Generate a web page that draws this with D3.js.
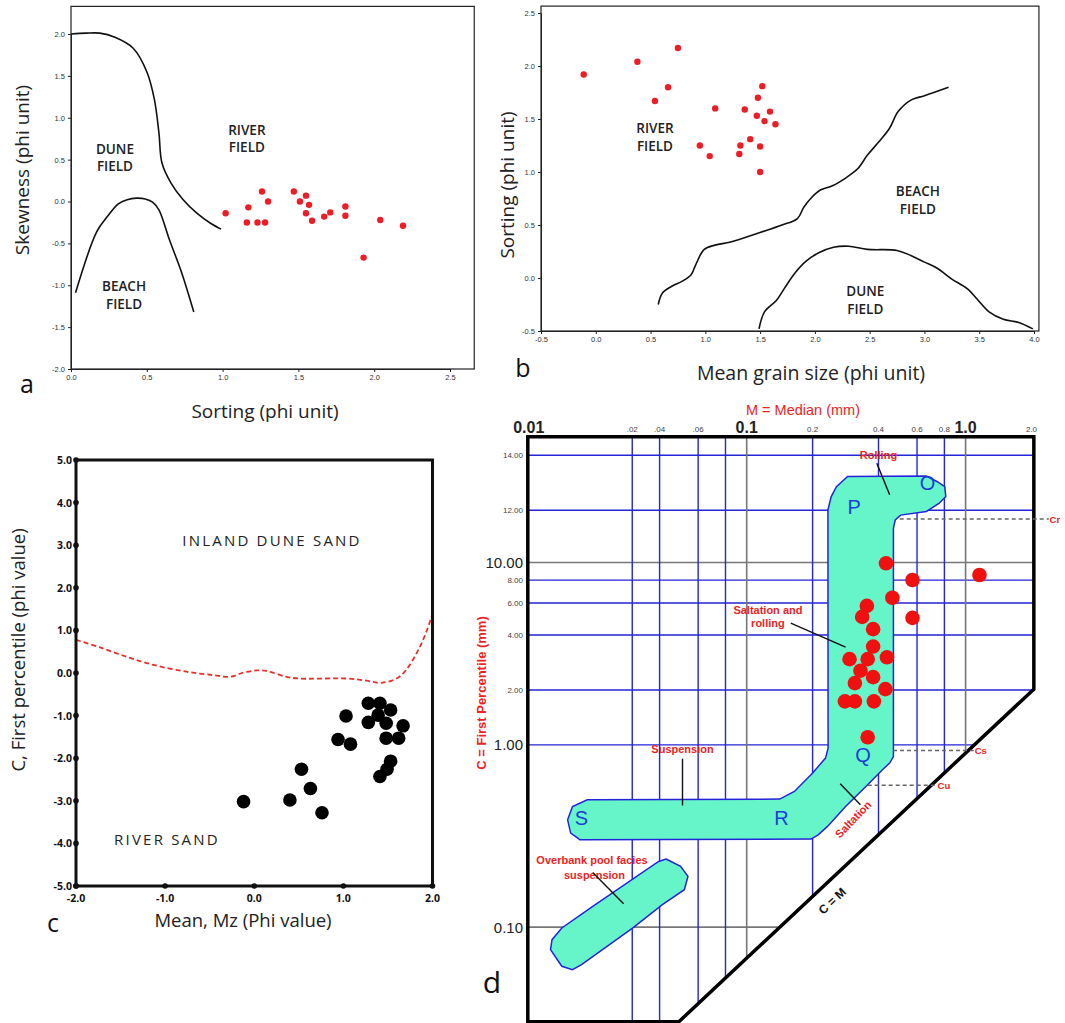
<!DOCTYPE html>
<html><head><meta charset="utf-8">
<script src="https://cdn.jsdelivr.net/npm/d3@7"></script>
<style>body{margin:0;background:#fff}svg{display:block}</style>
</head><body><svg id="c" width="1065" height="1023"></svg>
<script>
// ---------- Panel a : Sorting vs Skewness ----------
const aSorting  = [1.02,1.17,1.16,1.26,1.23,1.28,1.30,1.47,1.51,1.55,1.57,1.55,1.59,1.67,1.71,1.81,1.81,1.93,2.04,2.19];
const aSkewness = [-0.14,-0.07,-0.25,0.12,-0.25,-0.25,0.00,0.12,0.00,0.07,-0.04,-0.14,-0.23,-0.18,-0.13,-0.06,-0.17,-0.67,-0.22,-0.29];
const aDuneX  = [0,0.10,0.19,0.29,0.41,0.50,0.55,0.58,0.60,0.66,0.74,0.83,0.92,0.99];
const aDuneY  = [2.0,2.01,2.01,1.96,1.83,1.55,1.22,0.82,0.46,0.22,0.02,-0.14,-0.26,-0.33];
const aBeachX = [0.03,0.17,0.24,0.31,0.37,0.43,0.49,0.54,0.58,0.65,0.73,0.81];
const aBeachY = [-1.09,-0.36,-0.18,-0.03,0.02,0.04,0.03,-0.01,-0.10,-0.46,-0.85,-1.32];
const aXTicks = [0,0.5,1.0,1.5,2.0,2.5];
const aYTicks = [-2,-1.5,-1,-0.5,0,0.5,1,1.5,2];

// ---------- Panel b : Mean grain size vs Sorting ----------
const bMean    = [-0.11,0.38,0.75,0.66,0.54,1.09,0.95,1.04,1.36,1.32,1.31,1.41,1.48,1.52,1.47,1.59,1.54,1.64,1.50,1.50];
const bSorting = [1.92,2.04,2.17,1.80,1.67,1.60,1.25,1.15,1.59,1.25,1.17,1.31,1.70,1.81,1.53,1.57,1.48,1.45,1.24,1.00];
const bBeachX = [0.57,0.61,0.69,0.79,0.87,0.91,0.99,1.09,1.23,1.50,1.70,1.84,1.90,1.97,2.05,2.16,2.29,2.39,2.48,2.58,2.68,2.76,2.88,3.00,3.22];
const bBeachY = [-0.25,-0.14,-0.08,-0.03,0.03,0.12,0.27,0.31,0.34,0.43,0.50,0.56,0.67,0.76,0.83,0.87,0.95,1.03,1.16,1.28,1.41,1.57,1.68,1.72,1.80];
const bDuneX  = [1.49,1.54,1.65,1.72,1.82,1.92,2.04,2.17,2.31,2.48,2.75,2.88,3.00,3.12,3.25,3.39,3.49,3.59,3.72,3.86,3.99];
const bDuneY  = [-0.48,-0.32,-0.21,-0.10,0.05,0.16,0.24,0.29,0.30,0.27,0.26,0.21,0.15,0.09,-0.01,-0.10,-0.21,-0.32,-0.39,-0.42,-0.48];
const bXTicks = [-0.5,0,0.5,1,1.5,2,2.5,3,3.5,4];
const bYTicks = [-0.5,0,0.5,1,1.5,2,2.5];

// ---------- Panel c : Mean Mz vs C ----------
const cMean = [-0.12,0.40,0.53,0.63,0.76,0.94,1.03,1.08,1.28,1.28,1.41,1.39,1.53,1.48,1.67,1.48,1.62,1.53,1.49,1.41];
const cFirst = [-3.02,-2.98,-2.26,-2.71,-3.28,-1.56,-1.01,-1.67,-0.71,-1.16,-0.71,-0.99,-0.87,-1.18,-1.24,-1.53,-1.53,-2.07,-2.26,-2.43];
const cLineX = [-2.0,-1.73,-1.43,-1.13,-0.76,-0.46,-0.27,-0.12,0.03,0.14,0.36,0.51,1.04,1.26,1.43,1.64,1.86,2.0];
const cLineY = [0.78,0.60,0.38,0.19,0.03,-0.05,-0.09,0.01,0.06,0.05,-0.09,-0.13,-0.13,-0.18,-0.23,-0.07,0.62,1.38];
const cXTicks = [-2,-1,0,1,2];
const cYTicks = [5,4,3,2,1,0,-1,-2,-3,-4,-5];

// ---------- Panel d : CM diagram (Passega) ----------
const dMedian = [0.433,0.572,1.157,0.463,0.354,0.337,0.572,0.378,0.378,0.295,0.357,0.437,0.331,0.378,0.312,0.430,0.281,0.312,0.381,0.357];
const dFirst  = [9.90,8.02,8.54,6.41,5.78,5.03,4.97,4.31,3.46,2.95,2.95,3.02,2.55,2.35,2.18,2.02,1.73,1.73,1.73,1.10];
const dTopTicks  = [0.01,0.03,0.04,0.06,0.1,0.2,0.4,0.6,0.8,1.0,2.0];
const dTopLabels = ["0.01",".02",".04",".06","0.1","0.2","0.4","0.6","0.8","1.0","2.0"];
const dLeftTicks  = [14,12,10,8,6,4,2,1,0.1];
const dLeftLabels = ["14.00","12.00","10.00","8.00","6.00","4.00","2.00","1.00","0.10"];
const dVertBlue = [0.03,0.04,0.06,0.08,0.2,0.4,0.6,0.8];
const dVertGray = [0.1,1.0];
const dHorBlue  = [14,12,8,6,4,2,1];
const dHorGray  = [10,0.1];
// main PQRS / O field outline  [median, C]
const dMainShape = [[0.235,12.01],[0.243,12.46],[0.257,12.82],[0.289,13.19],[0.662,13.21],[0.743,13.0],[0.803,12.82],[0.812,12.47],[0.758,12.24],[0.662,11.95],[0.505,11.80],[0.477,11.60],[0.468,11.27],[0.468,0.863],[0.450,0.794],[0.417,0.730],[0.357,0.604],[0.283,0.459],[0.234,0.357],[0.212,0.321],[0.197,0.304],[0.0173,0.302],[0.0157,0.328],[0.0152,0.388],[0.0160,0.459],[0.0187,0.500],[0.1415,0.504],[0.1652,0.555],[0.2001,0.700],[0.2291,0.846],[0.2354,0.959]];
// overbank pool facies outline
const dPoolShape = [[0.0428,0.2364],[0.0499,0.2154],[0.0539,0.1899],[0.0519,0.1605],[0.0412,0.1328],[0.0302,0.0990],[0.0176,0.0623],[0.0160,0.0585],[0.0143,0.0610],[0.0127,0.0753],[0.0129,0.0854],[0.0143,0.0990],[0.0198,0.1300],[0.0396,0.2293]];
const dFrame = [[0.01,14.75],[2.05,14.75],[2.05,2.02],[0.049,0.0303],[0.01,0.0303]];

// =====================================================
const svg = d3.select("#c");
svg.append("rect").attr("width",1065).attr("height",1023).attr("fill","#fff");
const TF = "'Open Sans', 'DejaVu Sans', sans-serif";
const AF = "'Liberation Sans', Arial, sans-serif";
const f1 = d => d.toFixed(1);
function text(g, x, y, s, o = {}) {
  const t = g.append("text").attr("x", x).attr("y", y).text(s)
    .attr("font-family", o.family || TF).attr("font-size", o.size || 12)
    .attr("font-weight", o.weight || 400).attr("fill", o.fill || "#222")
    .attr("text-anchor", o.anchor || "middle");
  if (o.rotate != null) t.attr("transform", `rotate(${o.rotate},${x},${y})`);
  if (o.ls) t.attr("letter-spacing", o.ls);
  return t;
}
function styleAxis(g) {
  g.selectAll("text").attr("font-family", AF).attr("font-size", 7.5).attr("fill", "#333");
  g.selectAll("line").attr("stroke", "#222");
  g.select(".domain").attr("stroke", "#222");
}

// ---------- Panel a ----------
{
  const g = svg.append("g");
  const x = d3.scaleLinear().domain([0, 2.5]).range([71, 450]);
  const y = d3.scaleLinear().domain([-2, 2]).range([369, 34]);
  g.append("rect").attr("x", x(0)).attr("y", y(2.33)).attr("width", x(2.66) - x(0)).attr("height", y(-2) - y(2.33))
    .attr("fill", "none").attr("stroke", "#222").attr("stroke-width", 1.2);
  g.append("g").attr("transform", `translate(${x(0)},0)`)
    .call(d3.axisLeft(y).tickValues(aYTicks).tickFormat(f1).tickSize(3).tickSizeOuter(0)).call(styleAxis);
  g.append("g").attr("transform", `translate(0,${y(-2)})`)
    .call(d3.axisBottom(x).tickValues(aXTicks).tickFormat(f1).tickSize(3).tickSizeOuter(0)).call(styleAxis);
  const line = d3.line().x(d => x(d[0])).y(d => y(d[1])).curve(d3.curveCatmullRom);
  g.append("path").attr("d", line(d3.zip(aDuneX, aDuneY))).attr("fill", "none").attr("stroke", "#111").attr("stroke-width", 1.6);
  g.append("path").attr("d", line(d3.zip(aBeachX, aBeachY))).attr("fill", "none").attr("stroke", "#111").attr("stroke-width", 1.6);
  g.selectAll("circle.p").data(d3.zip(aSorting, aSkewness)).join("circle")
    .attr("cx", d => x(d[0])).attr("cy", d => y(d[1])).attr("r", 3.2).attr("fill", "#ee1c24");
  const fo = { size: 13.5, weight: 600, fill: "#222" };
  text(g, x(0.29), y(0.57), "DUNE", fo); text(g, x(0.29), y(0.36), "FIELD", fo);
  text(g, x(1.16), y(0.80), "RIVER", fo); text(g, x(1.16), y(0.59), "FIELD", fo);
  text(g, x(0.35), y(-1.07), "BEACH", fo); text(g, x(0.35), y(-1.28), "FIELD", fo);
  text(g, 265, 418, "Sorting (phi unit)", { size: 19, fill: "#222" });
  text(g, 29, 170, "Skewness (phi unit)", { size: 19, fill: "#222", rotate: -90 });
  text(g, 27, 393, "a", { size: 25, fill: "#111" });
}

// ---------- Panel b ----------
{
  const g = svg.append("g");
  const x = d3.scaleLinear().domain([-0.5, 4]).range([541, 1034]);
  const y = d3.scaleLinear().domain([-0.5, 2.5]).range([331, 13]);
  g.append("rect").attr("x", x(-0.5)).attr("y", y(2.565)).attr("width", x(4.045) - x(-0.5)).attr("height", y(-0.5) - y(2.565))
    .attr("fill", "none").attr("stroke", "#222").attr("stroke-width", 1.2);
  g.append("g").attr("transform", `translate(${x(-0.5)},0)`)
    .call(d3.axisLeft(y).tickValues(bYTicks).tickFormat(f1).tickSize(3).tickSizeOuter(0)).call(styleAxis);
  g.append("g").attr("transform", `translate(0,${y(-0.5)})`)
    .call(d3.axisBottom(x).tickValues(bXTicks).tickFormat(f1).tickSize(3).tickSizeOuter(0)).call(styleAxis);
  const line = d3.line().x(d => x(d[0])).y(d => y(d[1])).curve(d3.curveCatmullRom);
  g.append("path").attr("d", line(d3.zip(bBeachX, bBeachY))).attr("fill", "none").attr("stroke", "#111").attr("stroke-width", 1.6);
  g.append("path").attr("d", line(d3.zip(bDuneX, bDuneY))).attr("fill", "none").attr("stroke", "#111").attr("stroke-width", 1.6);
  g.selectAll("circle.p").data(d3.zip(bMean, bSorting)).join("circle")
    .attr("cx", d => x(d[0])).attr("cy", d => y(d[1])).attr("r", 3.2).attr("fill", "#ee1c24");
  const fo = { size: 13.5, weight: 600, fill: "#222" };
  text(g, x(0.54), y(1.37), "RIVER", fo); text(g, x(0.54), y(1.20), "FIELD", fo);
  text(g, x(2.94), y(0.77), "BEACH", fo); text(g, x(2.94), y(0.60), "FIELD", fo);
  text(g, x(2.46), y(-0.17), "DUNE", fo); text(g, x(2.46), y(-0.34), "FIELD", fo);
  text(g, 811, 380, "Mean grain size (phi unit)", { size: 19.5, fill: "#222" });
  text(g, 514, 185, "Sorting (phi unit)", { size: 19, fill: "#222", rotate: -90 });
  text(g, 523, 377, "b", { size: 25, fill: "#111" });
}

// ---------- Panel c ----------
{
  const g = svg.append("g");
  const x = d3.scaleLinear().domain([-2, 2]).range([76, 432.5]);
  const y = d3.scaleLinear().domain([-5, 5]).range([886, 460]);
  const line = d3.line().x(d => x(d[0])).y(d => y(d[1])).curve(d3.curveCatmullRom);
  g.append("path").attr("d", line(d3.zip(cLineX, cLineY))).attr("fill", "none")
    .attr("stroke", "#e8302a").attr("stroke-width", 1.8).attr("stroke-dasharray", "5,3");
  g.append("rect").attr("x", x(-2)).attr("y", y(5)).attr("width", x(2) - x(-2)).attr("height", y(-5) - y(5))
    .attr("fill", "none").attr("stroke", "#111").attr("stroke-width", 3);
  g.selectAll("circle.yt").data(cYTicks).join("circle").attr("cx", x(-2)).attr("cy", d => y(d)).attr("r", 2.8).attr("fill", "#111");
  g.selectAll("circle.xt").data(cXTicks).join("circle").attr("cx", d => x(d)).attr("cy", y(-5)).attr("r", 2.8).attr("fill", "#111");
  cYTicks.forEach(d => text(g, x(-2) - 4, y(d) + 4, f1(d), { size: 10.5, weight: 700, fill: "#111", anchor: "end" }));
  cXTicks.forEach(d => text(g, x(d), y(-5) + 16, f1(d), { size: 10.5, weight: 700, fill: "#111" }));
  g.selectAll("circle.p").data(d3.zip(cMean, cFirst)).join("circle")
    .attr("cx", d => x(d[0])).attr("cy", d => y(d[1])).attr("r", 6.8).attr("fill", "#000");
  text(g, 272, 546, "INLAND DUNE SAND", { size: 15, fill: "#222", ls: 2.2 });
  text(g, 167, 845, "RIVER SAND", { size: 15, fill: "#222", ls: 2.2 });
  text(g, 243, 927, "Mean, Mz (Phi value)", { size: 18.5, fill: "#222" });
  text(g, 25, 650, "C, First percentile (phi value)", { size: 18.5, fill: "#222", rotate: -90 });
  text(g, 53, 932, "c", { size: 25, fill: "#111" });
}

// ---------- Panel d ----------
{
  const g = svg.append("g");
  const x = d3.scaleLog().domain([0.01, 2]).range([527.8, 1031.5]);
  const yl = d3.scaleLinear()
    .domain([Math.log10(0.0303), 1, Math.log10(12), Math.log10(14), Math.log10(14.75)])
    .range([1021.7, 562.5, 510.3, 455.3, 436.7]);
  const y = c => yl(Math.log10(c));
  const red = "#ee2222", blue = "#2424d8";
  const poly = d3.line().x(d => x(d[0])).y(d => y(d[1]));
  svg.append("defs").append("clipPath").attr("id", "dclip").append("path").attr("d", poly(dFrame) + "Z");
  const gc = g.append("g").attr("clip-path", "url(#dclip)");
  const x0 = x(0.01), x1 = x(2.05), yTop = y(14.75), yBot = y(0.0303);
  // grid
  dHorBlue.forEach(c => gc.append("line").attr("x1", x0).attr("x2", x1).attr("y1", y(c)).attr("y2", y(c)).attr("stroke", blue).attr("stroke-width", 1.4));
  dHorGray.forEach(c => gc.append("line").attr("x1", x0).attr("x2", x1).attr("y1", y(c)).attr("y2", y(c)).attr("stroke", "#777").attr("stroke-width", 1.6));
  dVertBlue.forEach(m => gc.append("line").attr("x1", x(m)).attr("x2", x(m)).attr("y1", yTop).attr("y2", yBot).attr("stroke", blue).attr("stroke-width", 1.4));
  dVertGray.forEach(m => gc.append("line").attr("x1", x(m)).attr("x2", x(m)).attr("y1", yTop).attr("y2", yBot).attr("stroke", "#777").attr("stroke-width", 1.6));
  // fields
  g.append("path").attr("d", poly(dMainShape) + "Z").attr("fill", "#66f5c8").attr("stroke", blue).attr("stroke-width", 1.5);
  g.append("path").attr("d", poly(dPoolShape) + "Z").attr("fill", "#66f5c8").attr("stroke", blue).attr("stroke-width", 1.5);
  // frame
  g.append("path").attr("d", poly(dFrame) + "Z").attr("fill", "none").attr("stroke", "#000").attr("stroke-width", 3.5).attr("stroke-linejoin", "miter");
  // dashed reference levels
  const dash = (m0, m1, c) => g.append("line").attr("x1", x(m0)).attr("x2", x(m1)).attr("y1", y(c)).attr("y2", y(c))
    .attr("stroke", "#666").attr("stroke-width", 1.6).attr("stroke-dasharray", "4,3");
  dash(0.50, 2.40, 11.64); dash(0.466, 1.09, 0.93); dash(0.357, 0.74, 0.60);
  text(g, x(2.42), y(11.64) + 3.5, "Cr", { family: AF, size: 9.5, weight: 700, fill: red, anchor: "start" });
  text(g, x(1.10), y(0.93) + 3.5, "Cs", { family: AF, size: 9.5, weight: 700, fill: red, anchor: "start" });
  text(g, x(0.745), y(0.60) + 3.5, "Cu", { family: AF, size: 9.5, weight: 700, fill: red, anchor: "start" });
  // points
  g.selectAll("circle.p").data(d3.zip(dMedian, dFirst)).join("circle")
    .attr("cx", d => x(d[0])).attr("cy", d => y(d[1])).attr("r", 7.3).attr("fill", "#f01010");
  // top axis labels
  dTopTicks.forEach((m, i) => {
    const big = (m === 0.01 || m === 0.1 || m === 1.0);
    text(g, x(m) + (m === 0.01 ? 1 : 0), big ? 433 : 432, dTopLabels[i], { family: AF, size: big ? 16 : 8, weight: big ? 700 : 400, fill: big ? "#222" : "#444" });
  });
  dLeftTicks.forEach((c, i) => {
    const big = (c === 10 || c === 1 || c === 0.1);
    text(g, 523, y(c) + (big ? 5.5 : 3), dLeftLabels[i], { family: AF, size: big ? 15 : 8, weight: 400, fill: big ? "#222" : "#444", anchor: "end" });
  });
  text(g, 803, 415, "M = Median (mm)", { family: AF, size: 14.5, fill: red });
  text(g, 486, 693, "C = First Percentile (mm)", { family: AF, size: 13, weight: 700, fill: red, rotate: -90 });
  // field letters
  const fl = { family: AF, size: 20, fill: "#1d3fd6" };
  text(g, x(0.31), y(12.1) + 7, "P", fl);
  text(g, x(0.67), y(12.95) + 7, "O", fl);
  text(g, x(0.34), y(0.885) + 7, "Q", fl);
  text(g, x(0.144), y(0.397) + 7, "R", fl);
  text(g, x(0.0176), y(0.397) + 7, "S", fl);
  // annotations
  const lab = { family: AF, size: 11, weight: 700, fill: red };
  const leader = (a, b) => g.append("line").attr("x1", x(a[0])).attr("y1", y(a[1])).attr("x2", x(b[0])).attr("y2", y(b[1])).attr("stroke", "#111").attr("stroke-width", 1.4);
  text(g, x(0.40), y(14.0) + 4, "Rolling", lab); leader([0.393, 13.69], [0.450, 12.53]);
  text(g, x(0.125), y(5.5) + 4, "Saltation and", lab); text(g, x(0.125), y(4.65) + 4, "rolling", lab);
  leader([0.159, 4.65], [0.283, 3.43]);
  text(g, x(0.0509), y(0.95) + 4, "Suspension", lab); leader([0.0509, 0.84], [0.0509, 0.465]);
  leader([0.2674, 0.6115], [0.3307, 0.469]);
  text(g, 856, 822, "Saltation", { ...lab, rotate: -46 });
  text(g, 592, 864, "Overbank pool facies", lab); text(g, 594.5, 879, "suspension", lab);
  leader([0.0198, 0.1997], [0.0274, 0.1345]);
  text(g, 835, 904, "C = M", { family: AF, size: 12, weight: 700, fill: "#111", rotate: -43 });
  text(g, 492, 993, "d", { size: 30, fill: "#111" });
}
</script></body></html>
